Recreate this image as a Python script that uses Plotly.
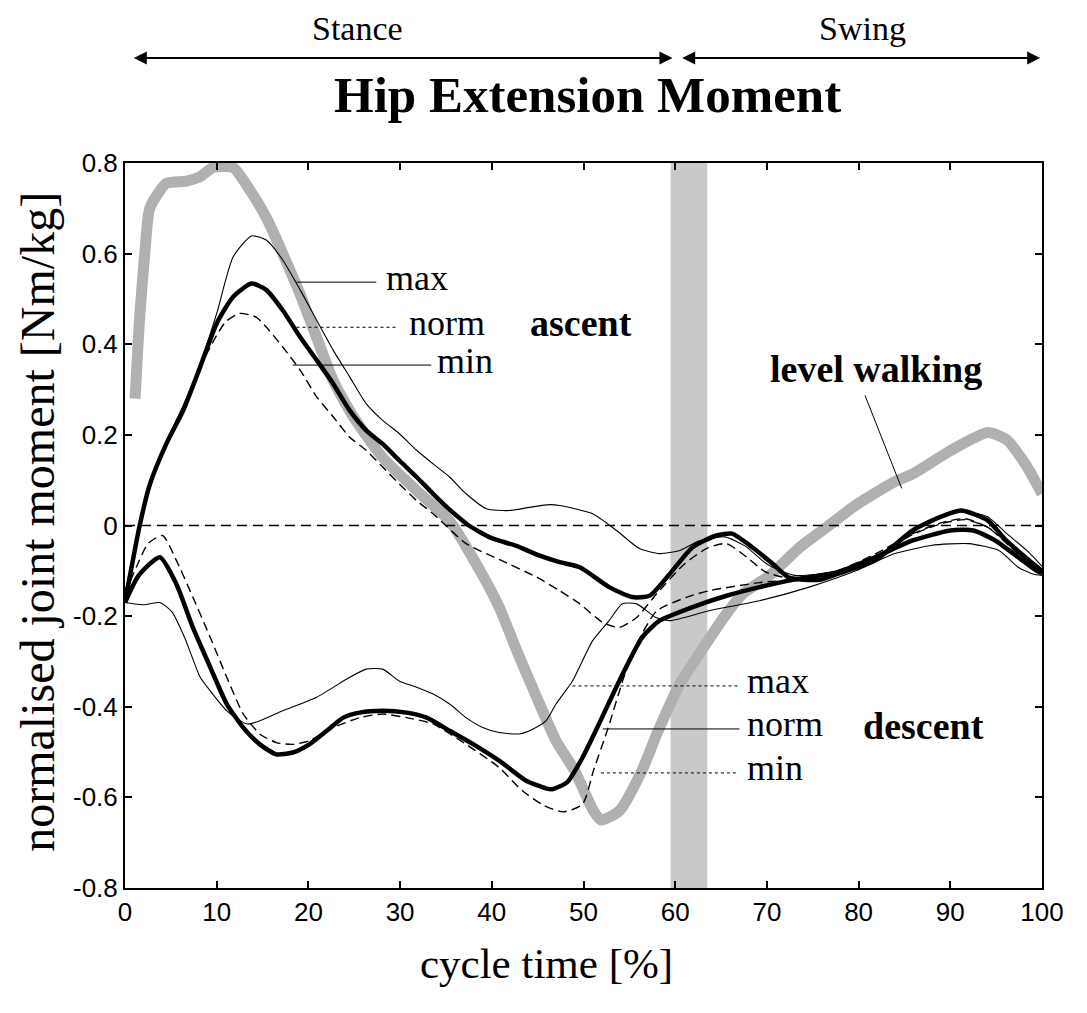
import plotly.graph_objects as go

# ---------------- data ----------------
# level walking (grey band)
lw_x = [1.1, 1.6, 2.2, 2.7, 4.5, 6.7, 8.2, 9.6, 11.8, 13.3, 15.4, 17.2, 19.1, 20.9, 22.7, 24.9,
        28.1, 31.8, 35.4, 39.0, 40.8, 42.8, 44.7, 47.0, 49.0, 51.1, 51.9, 53.9, 56.4, 58.0,
        60.5, 62.9, 65.4, 67.4, 70.3, 73.6, 76.5, 79.7, 83.8, 86.0, 90.0, 94.1, 96.1, 98.2, 100]
lw_y = [0.28, 0.46, 0.61, 0.70, 0.755, 0.76, 0.77, 0.79, 0.79, 0.75, 0.68, 0.60, 0.51, 0.415,
        0.32, 0.24, 0.15, 0.077, 0.01, -0.11, -0.18, -0.28, -0.37, -0.475, -0.54, -0.63, -0.65,
        -0.63, -0.54, -0.46, -0.35, -0.275, -0.20, -0.15, -0.11, -0.048, -0.004, 0.045, 0.095,
        0.115, 0.165, 0.205, 0.19, 0.135, 0.07]

# ascent
asc_norm_x = [0, 1.6, 2.7, 4.5, 6.35, 8.2, 10, 11.8, 13.8, 15.4, 17.2, 19.1, 20.9, 22.7, 24.5,
              26.3, 28.1, 29.9, 31.8, 33.6, 35.4, 37.5, 40, 42.7, 45, 47.4, 49.6, 52.8, 55.3,
              57.2, 59.4, 61.9, 64.5, 66.2, 68.4, 70.6, 72.4, 75.7, 77.7, 81.8, 85.9, 88.8, 91.2,
              94.1, 96.1, 98.6, 100]
asc_norm_y = [-0.17, 0.0, 0.09, 0.18, 0.254, 0.35, 0.446, 0.505, 0.534, 0.52, 0.475, 0.416,
              0.365, 0.313, 0.254, 0.21, 0.18, 0.144, 0.107, 0.07, 0.035, 0.0, -0.028, -0.045,
              -0.065, -0.081, -0.092, -0.136, -0.158, -0.155, -0.107, -0.048, -0.022, -0.018,
              -0.048, -0.084, -0.115, -0.12, -0.107, -0.077, -0.011, 0.018, 0.033, 0.011, -0.033,
              -0.077, -0.1]

asc_max_x = [0, 1.6, 2.7, 4.5, 6.35, 8.2, 10, 11.8, 13.8, 15.4, 17.2, 19.1, 20.9, 22.7, 24.5,
             26.3, 28.1, 29.9, 31.8, 33.6, 35.4, 37.2, 39.4, 41.9, 44.1, 46.3, 47.4, 51.0, 53.6,
             56.1, 58.3, 60.5, 62.5, 65.4, 67.6, 70, 73, 78, 82, 86, 89, 91, 94, 96, 98.6, 100]
asc_max_y = [-0.15, 0.0, 0.09, 0.185, 0.265, 0.357, 0.468, 0.593, 0.639, 0.63, 0.586, 0.52,
             0.453, 0.387, 0.328, 0.269, 0.232, 0.203, 0.166, 0.136, 0.107, 0.07, 0.037, 0.033,
             0.04, 0.046, 0.044, 0.026, -0.011, -0.051, -0.062, -0.055, -0.035, -0.025, -0.045,
             -0.085, -0.11, -0.10, -0.07, -0.01, 0.02, 0.03, 0.02, -0.015, -0.06, -0.09]

asc_min_x = [0, 1.6, 2.7, 4.5, 6.35, 8.2, 10, 11.0, 12.5, 14.3, 15.4, 17.2, 19.1, 20.9, 22.7,
             24.5, 26.3, 28.1, 29.9, 31.8, 33.6, 37.2, 40.8, 44.9, 47.4, 49.6, 52.1, 53.9, 55.8,
             58, 61, 63.5, 65.6, 67.8, 69.9, 73.6, 77.7, 81.8, 85.9, 89.2, 91.6, 94.1, 96.6, 99,
             100]
asc_min_y = [-0.15, 0.0, 0.09, 0.18, 0.26, 0.35, 0.42, 0.45, 0.468, 0.46, 0.438, 0.394, 0.343,
             0.284, 0.24, 0.195, 0.166, 0.129, 0.092, 0.055, 0.026, -0.04, -0.075, -0.114,
             -0.144, -0.173, -0.214, -0.225, -0.203, -0.15, -0.085, -0.05, -0.04, -0.07, -0.103,
             -0.12, -0.103, -0.068, -0.02, 0.005, 0.013, -0.004, -0.045, -0.09, -0.1]

# descent
desc_norm_x = [0, 1.5, 3.8, 5.6, 7.4, 9.3, 11.1, 12.9, 14.7, 16.5, 18.3, 20.1, 22, 23.8, 25.6,
               28.1, 30.7, 32.9, 35.4, 38, 40.8, 43.8, 45.9, 46.6, 48.2, 49.9, 51.5, 53.9, 56.4,
               58.3, 61.9, 65.6, 69.2, 72.8, 77.7, 81.8, 85.9, 90, 92.5, 94.9, 97.4, 99.4, 100]
desc_norm_y = [-0.17, -0.11, -0.07, -0.129, -0.225, -0.313, -0.394, -0.446, -0.483, -0.505,
               -0.501, -0.483, -0.453, -0.424, -0.413, -0.409, -0.413, -0.424, -0.453, -0.483,
               -0.519, -0.564, -0.58, -0.582, -0.567, -0.512, -0.446, -0.343, -0.247, -0.21,
               -0.18, -0.155, -0.136, -0.12, -0.103, -0.07, -0.033, -0.011, -0.011, -0.033,
               -0.07, -0.1, -0.105]

desc_max_x = [0, 2, 3.8, 5.1, 6.5, 8.2, 9.3, 11.1, 13.3, 14.7, 17.2, 20.9, 24.5, 26.3, 28.1,
              29.9, 31.8, 33.6, 35.4, 37.2, 39, 40.8, 43, 44.5, 45.9, 47, 48.8, 51.0, 52.8, 54.2,
              55.8, 57.9, 59.4, 63.7, 69.2, 74.6, 79.7, 83.8, 87.9, 92, 95.3, 97.4, 99, 100]
desc_max_y = [-0.17, -0.175, -0.17, -0.19, -0.247, -0.335, -0.365, -0.409, -0.438, -0.431,
              -0.409, -0.379, -0.335, -0.317, -0.317, -0.343, -0.357, -0.372, -0.394, -0.424,
              -0.446, -0.457, -0.46, -0.449, -0.431, -0.394, -0.343, -0.254, -0.21, -0.173,
              -0.173, -0.203, -0.21, -0.188, -0.166, -0.136, -0.1, -0.063, -0.044, -0.04,
              -0.055, -0.092, -0.107, -0.11]

desc_min_x = [0, 1.5, 2.5, 4.1, 5.6, 7.4, 9.3, 11.1, 12.9, 14.7, 16.5, 18.3, 20.1, 22.7, 25.6,
              28.1, 30.7, 33.6, 37.2, 40.8, 43.3, 45.7, 47.8, 49.9, 51.1, 52.7, 54.4, 56, 58,
              61.3, 63.7, 69.2, 73.6, 77.7, 81.8, 85.9, 89.2, 91.6, 94.1, 96.6, 99, 100]
desc_min_y = [-0.15, -0.08, -0.04, -0.022, -0.077, -0.158, -0.247, -0.335, -0.416, -0.46,
              -0.479, -0.483, -0.475, -0.446, -0.424, -0.416, -0.424, -0.438, -0.483, -0.534,
              -0.585, -0.618, -0.632, -0.615, -0.54, -0.446, -0.335, -0.254, -0.188, -0.158,
              -0.144, -0.126, -0.118, -0.1, -0.063, -0.018, 0.007, 0.015, -0.004, -0.048,
              -0.092, -0.1]

x_ticks = [0, 10, 20, 30, 40, 50, 60, 70, 80, 90, 100]
y_ticks = [-0.8, -0.6, -0.4, -0.2, 0, 0.2, 0.4, 0.6, 0.8]
y_tick_labels = ["-0.8", "-0.6", "-0.4", "-0.2", "0", "0.2", "0.4", "0.6", "0.8"]

toe_off = [59.5, 63.5]   # grey vertical band (stance/swing transition)

# ---------------- figure ----------------
SERIF = "Liberation Serif, Times New Roman, serif"
SANS = "Liberation Sans, Arial, sans-serif"

fig = go.Figure()

fig.add_vrect(x0=toe_off[0], x1=toe_off[1], fillcolor="#c9c9c9", line_width=0, layer="below")

fig.add_trace(go.Scatter(x=lw_x, y=lw_y, mode="lines", line=dict(color="#b0b0b0", width=11,
                         shape="spline", smoothing=0.6), hoverinfo="skip", showlegend=False))

fig.add_hline(y=0, line=dict(color="black", width=1.3, dash="10px,6px"))

def add_curve(x, y, kind):
    if kind == "norm":
        ln = dict(color="black", width=4.5, shape="spline", smoothing=0.6)
    elif kind == "max":
        ln = dict(color="black", width=1.1, shape="spline", smoothing=0.6)
    else:
        ln = dict(color="black", width=1.4, dash="9px,5px", shape="spline", smoothing=0.6)
    fig.add_trace(go.Scatter(x=x, y=y, mode="lines", line=ln, showlegend=False))

add_curve(asc_max_x, asc_max_y, "max")
add_curve(asc_min_x, asc_min_y, "min")
add_curve(desc_max_x, desc_max_y, "max")
add_curve(desc_min_x, desc_min_y, "min")
add_curve(asc_norm_x, asc_norm_y, "norm")
add_curve(desc_norm_x, desc_norm_y, "norm")

# leader lines
def leader(x0, y0, x1, y1, dash="solid"):
    fig.add_shape(type="line", xref="x", yref="y", x0=x0, y0=y0, x1=x1, y1=y1,
                  line=dict(color="black", width=1, dash=dash))

leader(18.7, 0.537, 27.4, 0.537)
leader(18.7, 0.4375, 29.6, 0.4375, "dot")
leader(18.3, 0.354, 33.4, 0.354)
leader(48.8, -0.354, 67.0, -0.354, "dot")
leader(52.1, -0.449, 67.0, -0.449)
leader(51.9, -0.546, 66.7, -0.546, "dot")
leader(80.7, 0.287, 84.7, 0.082)

def label(x, y, text, size=36, bold=False, anchor="left"):
    t = f"<b>{text}</b>" if bold else text
    fig.add_annotation(x=x, y=y, xref="x", yref="y", text=t, showarrow=False,
                       xanchor=anchor, yanchor="middle",
                       font=dict(family=SERIF, size=size, color="black"))

label(28.2, 0.547, "max")
label(30.8, 0.447, "norm")
label(33.8, 0.364, "min")
label(49.7, 0.447, "ascent", size=38, bold=True, anchor="center")
label(81.9, 0.345, "level walking", size=38, bold=True, anchor="center")
label(67.6, -0.344, "max")
label(67.6, -0.439, "norm")
label(67.6, -0.536, "min")
label(87.1, -0.443, "descent", size=38, bold=True, anchor="center")

# stance / swing arrows
for a, b in [(0.8, 59.7), (60.6, 99.8)]:
    fig.add_annotation(x=b, y=1.1448, xref="x", yref="paper", ax=a, ay=0, axref="x",
                       ayref="pixel", text="", showarrow=True, arrowhead=2, startarrowhead=2,
                       arrowside="end+start", arrowwidth=2, arrowsize=1.3, startarrowsize=1.3,
                       arrowcolor="black")

fig.add_annotation(x=25.3, y=1.185, xref="x", yref="paper", text="Stance", showarrow=False,
                   xanchor="center", yanchor="middle", font=dict(family=SERIF, size=34, color="black"))
fig.add_annotation(x=80.4, y=1.185, xref="x", yref="paper", text="Swing", showarrow=False,
                   xanchor="center", yanchor="middle", font=dict(family=SERIF, size=34, color="black"))
fig.add_annotation(x=50.4, y=1.094, xref="x", yref="paper", text="<b>Hip Extension Moment</b>",
                   showarrow=False, xanchor="center", yanchor="middle",
                   font=dict(family=SERIF, size=51, color="black"))
fig.add_annotation(x=46, y=-0.104, xref="x", yref="paper", text="cycle time [%]",
                   showarrow=False, xanchor="center", yanchor="middle",
                   font=dict(family=SERIF, size=43, color="black"))
fig.add_annotation(x=-0.095, y=0.505, xref="paper", yref="paper",
                   text="normalised joint moment [Nm/kg]", textangle=-90, showarrow=False,
                   xanchor="center", yanchor="middle",
                   font=dict(family=SERIF, size=48, color="black"))

# page body has an 8px margin: shift the figure so the plot area lands where the reference has it
fig.update_layout(
    width=1071, height=997,
    margin=dict(l=117, r=37, t=155, b=117),
    paper_bgcolor="white", plot_bgcolor="white",
    showlegend=False,
    xaxis=dict(range=[0, 100], tickvals=x_ticks, ticks="inside", ticklen=7, tickwidth=1.5,
               tickcolor="black", showline=True, linecolor="black", linewidth=2, mirror="ticks",
               showgrid=False, zeroline=False,
               tickfont=dict(family=SANS, size=26, color="black")),
    yaxis=dict(range=[-0.8, 0.8], tickvals=y_ticks, ticktext=y_tick_labels, ticks="inside",
               ticklen=7, tickwidth=1.5, tickcolor="black", showline=True, linecolor="black",
               linewidth=2, mirror="ticks", showgrid=False, zeroline=False,
               tickfont=dict(family=SANS, size=26, color="black")),
)

fig.write_html("out.html")
